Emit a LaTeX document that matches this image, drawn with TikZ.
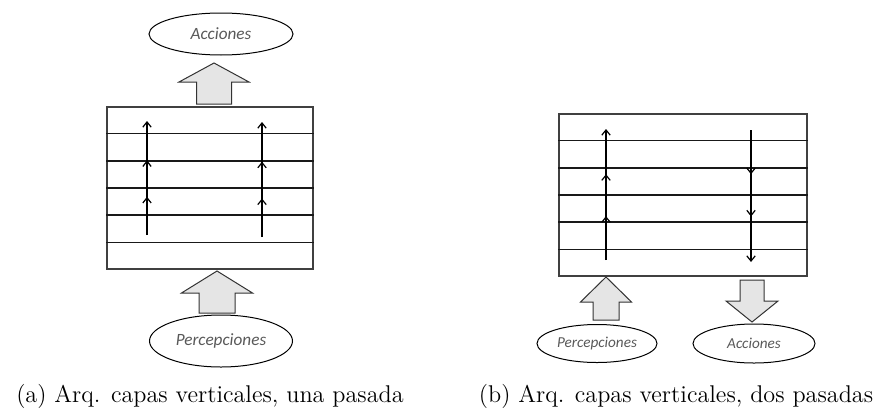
\documentclass[tikz,border=0pt]{standalone}
\usepackage{fontspec}
\newfontfamily\handfont{Carlito}
\usetikzlibrary{shapes.geometric,arrows.meta,decorations.markings,calc}

\begin{document}
\begin{tikzpicture}[x=0.5pt,y=-0.5pt,
  frame/.style={draw=black!75,line width=0.55pt,inner sep=0pt},
  layer/.style={draw=black!90,line width=0.7pt},
  tipstyle/.style={},
  flow/.style={line width=0.6pt,-{Straight Barb[length=2.6pt,width=4.2pt]},
    postaction={decorate},
    decoration={markings,
      mark=at position 0.335 with {\arrow{Straight Barb[length=2.6pt,width=4.2pt]}},
      mark=at position 0.655 with {\arrow{Straight Barb[length=2.6pt,width=4.2pt]}}}},
  bigarrow/.style={draw=black!80,fill=black!10,line width=0.5pt,line join=miter},
  ell/.style={ellipse,draw=black,line width=0.5pt,inner sep=0pt},
  lblbig/.style={font=\handfont\itshape\fontsize{8.6}{10}\selectfont,text=black!65},
  lblsmall/.style={font=\handfont\itshape\fontsize{7.6}{9}\selectfont,text=black!65},
  caption/.style={anchor=base,font=\fontsize{12.1}{14}\selectfont}]
\useasboundingbox (0,0) rectangle (881,412);

% ---------- (a) one-pass vertical layers ----------
\node[frame,draw,minimum width=103pt,minimum height=81pt] (boxA) at (210,188) {};
\foreach \k in {1,...,5}
  \draw[layer] ($(boxA.north west)!\k/6!(boxA.south west)$) -- ($(boxA.north east)!\k/6!(boxA.south east)$);

\coordinate (a1s) at (147,235); \coordinate (a1e) at (147,121);
\coordinate (a2s) at (262,237); \coordinate (a2e) at (262,122);
\draw[flow] (a1s) -- (a1e);
\draw[flow] (a2s) -- (a2e);

% output block arrow
\draw[bigarrow] (196.5,104) -- (196.5,82) -- (179,82) -- (214,63) -- (249,82) -- (231.5,82) -- (231.5,104) -- cycle;
% input block arrow
\draw[bigarrow] (199,313) -- (199,293) -- (181.5,293) -- (217,271) -- (252.5,293) -- (235,293) -- (235,313) -- cycle;

\node[ell,minimum width=72pt,minimum height=21pt,lblbig] (accA) at (221,34) {Acciones};
\node[ell,minimum width=71.5pt,minimum height=26pt,lblbig] (perA) at (221,341) {Percepciones};

\node[caption] (capA) at (210,402) {(a) Arq. capas verticales, una pasada};

% ---------- (b) two-pass vertical layers ----------
\node[frame,draw,minimum width=124pt,minimum height=81pt] (boxB) at (683,195) {};
\foreach \k in {1,...,5}
  \draw[layer] ($(boxB.north west)!\k/6!(boxB.south west)$) -- ($(boxB.north east)!\k/6!(boxB.south east)$);

\coordinate (b1s) at (606,260); \coordinate (b1e) at (606,129);
\coordinate (b2s) at (751,130); \coordinate (b2e) at (751,262);
\draw[flow] (b1s) -- (b1e);
\draw[flow] (b2s) -- (b2e);

% input block arrow
\draw[bigarrow] (593,320) -- (593,302) -- (580.5,302) -- (606,277) -- (631.5,302) -- (619,302) -- (619,320) -- cycle;
% output block arrow
\draw[bigarrow] (740,280) -- (740,301) -- (726,301) -- (752,322) -- (778,301) -- (764,301) -- (764,280) -- cycle;

\node[ell,minimum width=60pt,minimum height=19pt,lblsmall] (perB) at (597,343.5) {Percepciones};
\node[ell,minimum width=61pt,minimum height=19.5pt,lblsmall] (accB) at (754,343.5) {Acciones};

\node[caption] (capB) at (676,402) {(b) Arq. capas verticales, dos pasadas};
\end{tikzpicture}
\end{document}
